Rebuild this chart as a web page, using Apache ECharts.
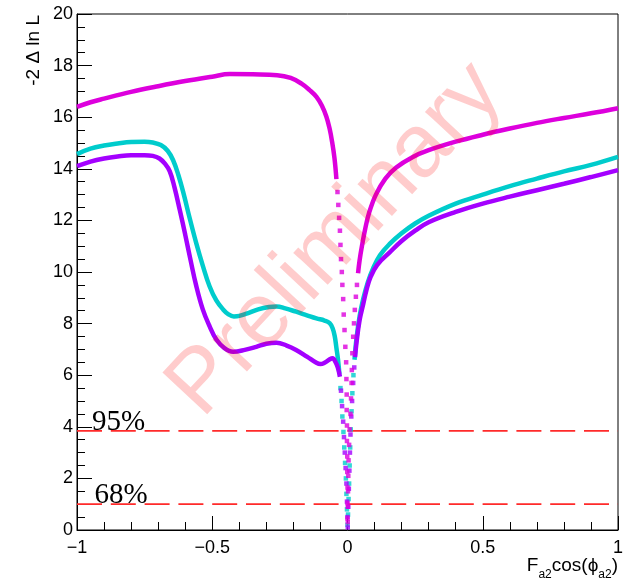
<!DOCTYPE html>
<html><head><meta charset="utf-8">
<script src="https://cdn.jsdelivr.net/npm/echarts/dist/echarts.min.js"></script>
<style>html,body{margin:0;padding:0;background:#fff}#c{width:638px;height:579px}</style>
</head><body><div id="c"></div>
<script>
// ---- axis ranges / thresholds ----
const xRange = [-1, 1];
const yRange = [0, 20];
const thresholdValues = [3.84, 1.0];
const thresholdLabels = ['95%', '68%'];
const thresholdLabelX = [-0.945, -0.935];

// ---- magenta curve ----
const magLeftX = [-1.0,-0.95,-0.9,-0.8,-0.7,-0.6,-0.5,-0.435,-0.35,-0.26,-0.21,-0.17,-0.14,-0.114,-0.095,-0.078,-0.066,-0.057,-0.048,-0.041];
const magLeftY = [16.40,16.58,16.72,16.98,17.2,17.4,17.57,17.67,17.66,17.63,17.52,17.3,17.05,16.78,16.45,16.02,15.55,15.05,14.4,13.6];
const magDotX = [-0.037,-0.034,-0.031,-0.028,-0.026,-0.024,-0.021,-0.019,-0.016,-0.014,-0.011,-0.008,-0.005,-0.004,-0.003,-0.003,-0.002,-0.002,-0.001,-0.001,0.0,0.0,0.0,
                 0.001,0.001,0.002,0.003,0.004,0.006,0.008,0.011,0.013,0.015,0.016,0.018,0.021,0.024,0.027,0.031,0.035];
const magDotY = [13.1,12.6,12.1,11.6,11.05,10.5,10.0,9.5,8.95,8.35,7.75,7.1,6.5,5.85,5.25,4.65,4.05,3.45,2.85,2.25,1.65,1.05,0.45,
                 0.3,0.9,1.5,2.1,2.7,3.3,3.9,4.5,5.1,5.7,6.2,6.85,7.49,8.01,8.53,9.04,9.5];
const magRightX = [0.039,0.045,0.055,0.065,0.08,0.105,0.14,0.18,0.24,0.3,0.4,0.5,0.6,0.7,0.8,0.9,1.0];
const magRightY = [9.95,10.47,11.1,11.65,12.3,13.0,13.62,14.05,14.45,14.72,15.05,15.32,15.56,15.78,15.97,16.15,16.35];

// ---- cyan curve ----
const cyanLeftX = [-1.0,-0.95,-0.9,-0.85,-0.8,-0.75,-0.72,-0.69,-0.665,-0.645,-0.625,-0.605,-0.585,-0.56,-0.535,-0.51,-0.485,-0.46,-0.44,-0.42,-0.4,-0.37,-0.33,-0.29,-0.262,-0.23,-0.19,-0.15,-0.115,-0.085,-0.066,-0.055,-0.047,-0.041,-0.035,-0.03];
const cyanLeftY = [14.57,14.78,14.9,14.98,15.04,15.05,15.02,14.92,14.7,14.34,13.75,13.0,12.15,11.15,10.25,9.45,8.9,8.55,8.36,8.28,8.3,8.4,8.55,8.64,8.66,8.59,8.46,8.32,8.2,8.12,8.02,7.82,7.5,7.06,6.6,6.05];
const cyanDotX = [-0.026,-0.022,-0.019,-0.015,-0.012,-0.009,-0.006,-0.004,-0.002,0.0,0.002,0.004,0.006,0.008,0.01,0.012,0.015,0.018,0.022];
const cyanDotY = [5.5,5.0,4.4,3.8,3.2,2.6,2.0,1.4,0.8,0.2,0.6,1.2,1.8,2.5,3.2,3.9,4.6,5.3,6.0];
const cyanRightX = [0.026,0.033,0.045,0.058,0.075,0.095,0.12,0.155,0.2,0.25,0.3,0.4,0.5,0.6,0.7,0.8,0.9,1.0];
const cyanRightY = [6.6,7.4,8.3,8.95,9.6,10.15,10.65,11.08,11.5,11.88,12.18,12.65,13.0,13.33,13.62,13.9,14.15,14.46];

// ---- violet curve ----
const vioLeftX = [-1.0,-0.95,-0.9,-0.85,-0.8,-0.75,-0.72,-0.695,-0.675,-0.657,-0.64,-0.62,-0.6,-0.58,-0.56,-0.535,-0.51,-0.485,-0.455,-0.423,-0.38,-0.337,-0.3,-0.262,-0.225,-0.19,-0.15,-0.115,-0.1,-0.085,-0.068,-0.055,-0.045,-0.036,-0.028];
const vioLeftY = [14.1,14.28,14.4,14.48,14.53,14.53,14.5,14.4,14.2,13.9,13.3,12.4,11.45,10.45,9.5,8.55,7.9,7.38,7.05,6.91,6.98,7.1,7.22,7.26,7.15,6.98,6.72,6.48,6.43,6.48,6.6,6.66,6.52,6.3,5.94];
const vioDotX = [-0.024,-0.02,-0.016,-0.013,-0.01,-0.007,-0.004,-0.002,0.0,0.001,0.003,0.005,0.007,0.009,0.011,0.014,0.017,0.021,0.025];
const vioDotY = [5.4,4.8,4.2,3.6,3.0,2.4,1.8,1.1,0.5,0.1,0.9,1.6,2.3,3.0,3.7,4.4,5.0,5.7,6.3];
const vioRightX = [0.028,0.033,0.045,0.058,0.07,0.085,0.11,0.155,0.2,0.25,0.3,0.4,0.5,0.6,0.7,0.8,0.9,1.0];
const vioRightY = [6.7,7.24,8.15,8.75,9.3,9.8,10.28,10.75,11.2,11.6,11.93,12.33,12.65,12.92,13.17,13.42,13.68,13.95];

const colMag = '#dd00dd', colCyan = '#00cccc', colVio = '#a400ff';

function pairs(xs, ys) { return xs.map((x, i) => [x, ys[i]]); }
function curve(name, xs, ys, color) {
  return { name, type: 'line', data: pairs(xs, ys), showSymbol: false, symbol: 'none',
    smooth: 0.4, lineStyle: { color, width: 4.5 }, z: 3, silent: true };
}
function dots(name, xs, ys, color) {
  return { name, type: 'scatter', data: pairs(xs, ys), symbol: 'rect', symbolSize: 4.5,
    itemStyle: { color }, z: 3, silent: true };
}
function thresh(v) {
  return { type: 'line', data: [[xRange[0], v], [xRange[1], v]], showSymbol: false, symbol: 'none',
    lineStyle: { color: '#ff2a2a', width: 1.8, type: [25, 8.8] }, z: 2, silent: true };
}
const fmt = v => (v < 0 ? '\u2212' + Math.abs(v) : String(v));

const chart = echarts.init(document.getElementById('c'));
chart.setOption({
  animation: false,
  backgroundColor: '#fff',
  grid: { left: 77, right: 20, top: 14, bottom: 49, show: true, borderColor: '#000', borderWidth: 1, backgroundColor: 'transparent' },
  xAxis: {
    type: 'value', min: xRange[0], max: xRange[1], interval: 0.5,
    axisLine: { onZero: false, lineStyle: { color: '#000', width: 1 } },
    axisTick: { inside: true, length: 14, lineStyle: { color: '#000' } },
    minorTick: { show: true, splitNumber: 5, length: 8, lineStyle: { color: '#000' } },
    splitLine: { show: false }, minorSplitLine: { show: false },
    axisLabel: { formatter: fmt, color: '#000', fontSize: 18, fontFamily: 'Liberation Sans', margin: 9 }
  },
  yAxis: {
    type: 'value', min: yRange[0], max: yRange[1], interval: 2,
    axisLine: { show: true, onZero: false, lineStyle: { color: '#000', width: 1 } },
    axisTick: { show: true, inside: true, length: 15, lineStyle: { color: '#000' } },
    minorTick: { show: true, splitNumber: 4, length: 8, lineStyle: { color: '#000' } },
    splitLine: { show: false }, minorSplitLine: { show: false },
    axisLabel: { color: '#000', fontSize: 18, fontFamily: 'Liberation Sans', margin: 4 }
  },
  series: [
    thresh(thresholdValues[0]), thresh(thresholdValues[1]),
    curve('cyanL', cyanLeftX, cyanLeftY, colCyan), dots('cyanD', cyanDotX, cyanDotY, colCyan), curve('cyanR', cyanRightX, cyanRightY, colCyan),
    curve('vioL', vioLeftX, vioLeftY, colVio), dots('vioD', vioDotX, vioDotY, colVio), curve('vioR', vioRightX, vioRightY, colVio),
    curve('magL', magLeftX, magLeftY, colMag), dots('magD', magDotX, magDotY, colMag), curve('magR', magRightX, magRightY, colMag)
  ]
});

const graphics = [];
thresholdLabels.forEach((t, i) => {
  const p = chart.convertToPixel({ gridIndex: 0 }, [thresholdLabelX[i], thresholdValues[i]]);
  graphics.push({ type: 'text', x: p[0], y: p[1] + 6, z: 50, silent: true,
    style: { text: t, font: '29px "Liberation Serif"', fill: '#000', align: 'left', verticalAlign: 'bottom' } });
});
graphics.push({ type: 'text', x: 34, y: 15, rotation: Math.PI / 2, z: 50, silent: true,
  style: { text: '-2 \u0394 ln L', font: '19px "Liberation Sans"', fill: '#000', align: 'right', verticalAlign: 'middle' } });
graphics.push({ type: 'text', x: 618, y: 566, z: 50, silent: true,
  style: { text: '{m|F}{s|a2}{m|cos(\u03D5}{s|a2}{m|)}', align: 'right', verticalAlign: 'middle',
    rich: { m: { fontSize: 19, fontFamily: 'Liberation Sans', fill: '#000', lineHeight: 30 },
            s: { fontSize: 12, fontFamily: 'Liberation Sans', fill: '#000', lineHeight: 12, verticalAlign: 'bottom' } } } });
graphics.push({ type: 'text', x: 336, y: 240, rotation: 47 * Math.PI / 180, z: 100, silent: true,
  style: { text: 'Preliminary', font: '89px "Liberation Sans"', fill: 'rgba(255,0,0,0.2)', align: 'center', verticalAlign: 'middle' } });
chart.setOption({ graphic: graphics });
</script></body></html>
